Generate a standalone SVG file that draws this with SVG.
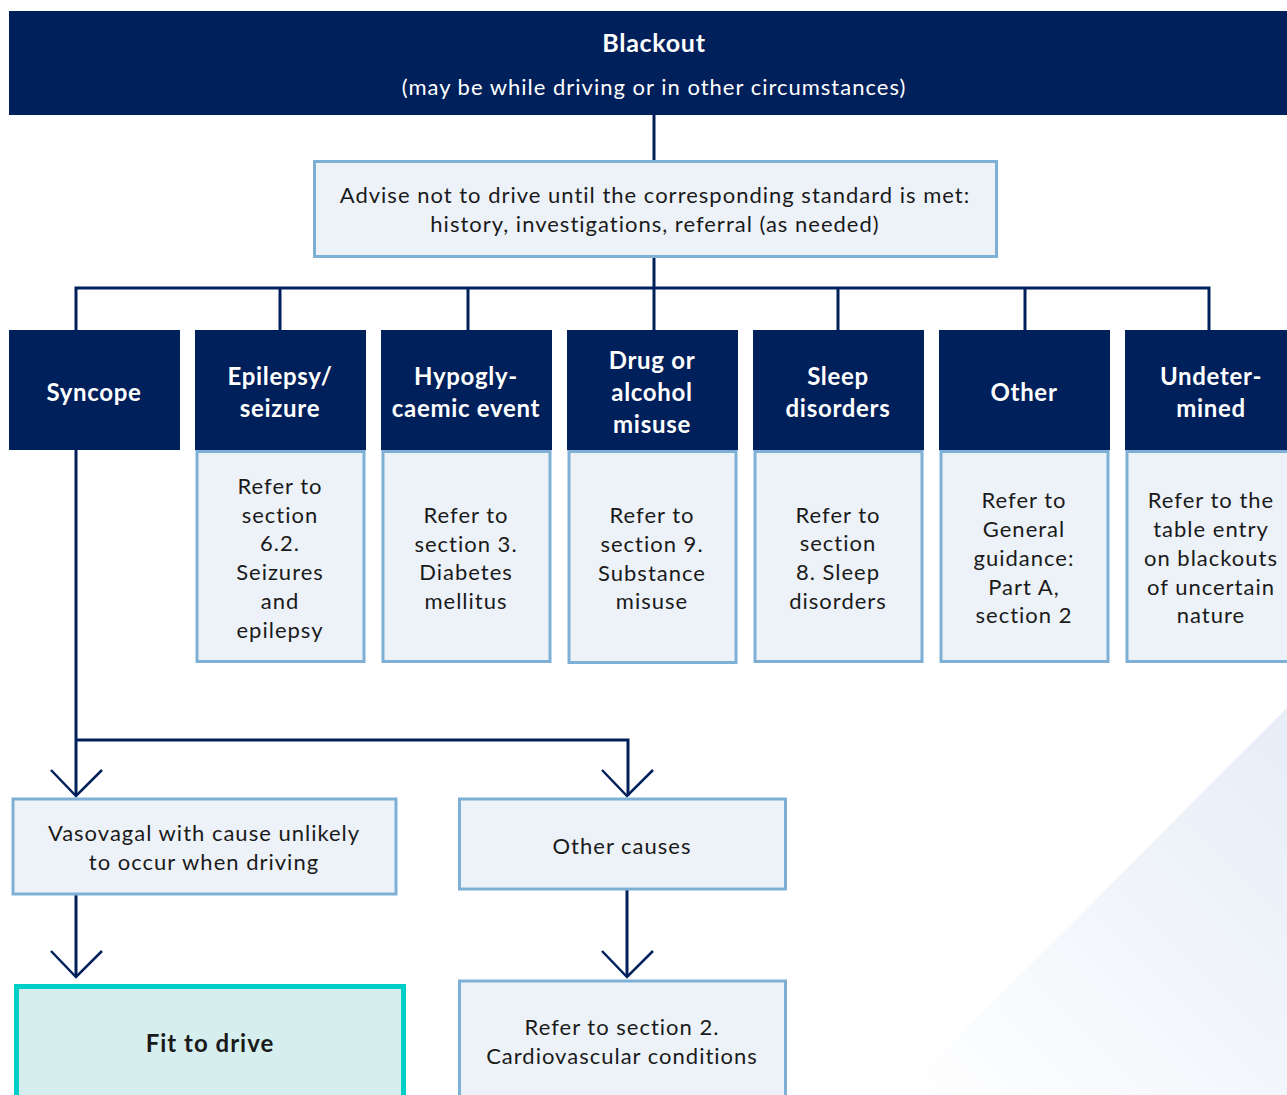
<svg xmlns="http://www.w3.org/2000/svg" width="1287" height="1095" viewBox="0 0 1287 1095">
<defs>
<linearGradient id="bg" x1="1" y1="0" x2="0" y2="1">
<stop offset="0" stop-color="#e6edf7"/>
<stop offset="1" stop-color="#ffffff"/>
</linearGradient>
<style>
.hdr{fill:#00205b}
.box{fill:#edf2f9;stroke:#7eb0d6;stroke-width:3}
.fit{fill:#d6efee;stroke:#00cfc8;stroke-width:5}
.t{font-family:Lato,"Liberation Sans",sans-serif;font-size:22px;letter-spacing:1px;fill:#1a1a1a;text-anchor:middle}
.w{font-family:Lato,"Liberation Sans",sans-serif;font-size:24px;font-weight:bold;letter-spacing:0.7px;fill:#ffffff;text-anchor:middle}
.ws{font-family:Lato,"Liberation Sans",sans-serif;font-size:22px;letter-spacing:1px;fill:#ffffff;text-anchor:middle}
.b{font-family:Lato,"Liberation Sans",sans-serif;font-size:24px;font-weight:bold;letter-spacing:1px;fill:#1a1a1a;text-anchor:middle}
.c{fill:none;stroke:#00205b;stroke-width:3}
.a{fill:none;stroke:#00205b;stroke-width:2.5}
</style>
</defs>
<rect width="1287" height="1095" fill="#ffffff"/>
<polygon points="1287,708 1287,1095 900,1095" fill="url(#bg)"/>

<g id="connectors">
<path class="c" d="M654 115 V160"/>
<path class="c" d="M654 258 V288"/>
<path class="c" d="M76 330 V288 H1209 V330"/>
<path class="c" d="M280 288 V330 M468 288 V330 M654 288 V330 M838 288 V330 M1025 288 V330"/>
<path class="c" d="M76 450 V796"/>
<path class="c" d="M76 740 H628 V796"/>
<path class="a" d="M51 770 L76 796 L102 770"/>
<path class="a" d="M602 770 L627 796 L653 770"/>
<path class="c" d="M76 895 V977"/>
<path class="a" d="M51 951 L76 977 L102 951"/>
<path class="c" d="M627 890 V977"/>
<path class="a" d="M602 951 L627 977 L653 951"/>
</g>

<g id="blackout">
<rect class="hdr" x="9" y="11" width="1278" height="104"/>
<text class="w" x="654" y="52" style="font-size:25px">Blackout</text>
<text class="ws" x="654" y="95">(may be while driving or in other circumstances)</text>
</g>

<g id="advise">
<rect class="box" x="314.5" y="161.5" width="682" height="95"/>
<text class="t" x="655" y="203">Advise not to drive until the corresponding standard is met:</text>
<text class="t" x="655" y="232">history, investigations, referral (as needed)</text>
</g>

<g id="syncope">
<rect class="hdr" x="9" y="330" width="171" height="120"/>
<text class="w" x="94" y="401">Syncope</text>
</g>

<g id="epilepsy">
<rect class="hdr" x="195" y="330" width="171" height="120"/>
<text class="w" x="280" y="385">Epilepsy/</text>
<text class="w" x="280" y="417">seizure</text>
<rect class="box" x="197" y="451.5" width="167" height="210"/>
<text class="t" x="280" y="494">Refer to</text>
<text class="t" x="280" y="523">section</text>
<text class="t" x="280" y="551">6.2.</text>
<text class="t" x="280" y="580">Seizures</text>
<text class="t" x="280" y="609">and</text>
<text class="t" x="280" y="638">epilepsy</text>
</g>

<g id="hypo">
<rect class="hdr" x="381" y="330" width="171" height="120"/>
<text class="w" x="466" y="385">Hypogly-</text>
<text class="w" x="466" y="417">caemic event</text>
<rect class="box" x="383" y="451.5" width="167" height="210"/>
<text class="t" x="466" y="523">Refer to</text>
<text class="t" x="466" y="552">section 3.</text>
<text class="t" x="466" y="580">Diabetes</text>
<text class="t" x="466" y="609">mellitus</text>
</g>

<g id="drug">
<rect class="hdr" x="567" y="330" width="171" height="120"/>
<text class="w" x="652" y="369">Drug or</text>
<text class="w" x="652" y="401">alcohol</text>
<text class="w" x="652" y="433">misuse</text>
<rect class="box" x="569" y="451.5" width="167" height="211"/>
<text class="t" x="652" y="523">Refer to</text>
<text class="t" x="652" y="552">section 9.</text>
<text class="t" x="652" y="581">Substance</text>
<text class="t" x="652" y="609">misuse</text>
</g>

<g id="sleep">
<rect class="hdr" x="753" y="330" width="171" height="120"/>
<text class="w" x="838" y="385">Sleep</text>
<text class="w" x="838" y="417">disorders</text>
<rect class="box" x="755" y="451.5" width="167" height="210"/>
<text class="t" x="838" y="523">Refer to</text>
<text class="t" x="838" y="551">section</text>
<text class="t" x="838" y="580">8. Sleep</text>
<text class="t" x="838" y="609">disorders</text>
</g>

<g id="other">
<rect class="hdr" x="939" y="330" width="171" height="120"/>
<text class="w" x="1024" y="401">Other</text>
<rect class="box" x="941" y="451.5" width="167" height="210"/>
<text class="t" x="1024" y="508">Refer to</text>
<text class="t" x="1024" y="537">General</text>
<text class="t" x="1024" y="566">guidance:</text>
<text class="t" x="1024" y="595">Part A,</text>
<text class="t" x="1024" y="623">section 2</text>
</g>

<g id="undetermined">
<rect class="hdr" x="1125" y="330" width="171" height="120"/>
<text class="w" x="1211" y="385">Undeter-</text>
<text class="w" x="1211" y="417">mined</text>
<rect class="box" x="1127" y="451.5" width="167" height="210"/>
<text class="t" x="1211" y="508">Refer to the</text>
<text class="t" x="1211" y="537">table entry</text>
<text class="t" x="1211" y="566">on blackouts</text>
<text class="t" x="1211" y="595">of uncertain</text>
<text class="t" x="1211" y="623">nature</text>
</g>

<g id="vasovagal">
<rect class="box" x="13" y="799" width="383" height="95"/>
<text class="t" x="204" y="841">Vasovagal with cause unlikely</text>
<text class="t" x="204" y="870">to occur when driving</text>
</g>

<g id="othercauses">
<rect class="box" x="459.5" y="799" width="326" height="90"/>
<text class="t" x="622" y="854">Other causes</text>
</g>

<g id="fit">
<rect class="fit" x="16.5" y="986.5" width="387" height="120"/>
<text class="b" x="210" y="1052">Fit to drive</text>
</g>

<g id="cardio">
<rect class="box" x="459.5" y="981" width="326" height="130"/>
<text class="t" x="622" y="1035">Refer to section 2.</text>
<text class="t" x="622" y="1064">Cardiovascular conditions</text>
</g>
</svg>
